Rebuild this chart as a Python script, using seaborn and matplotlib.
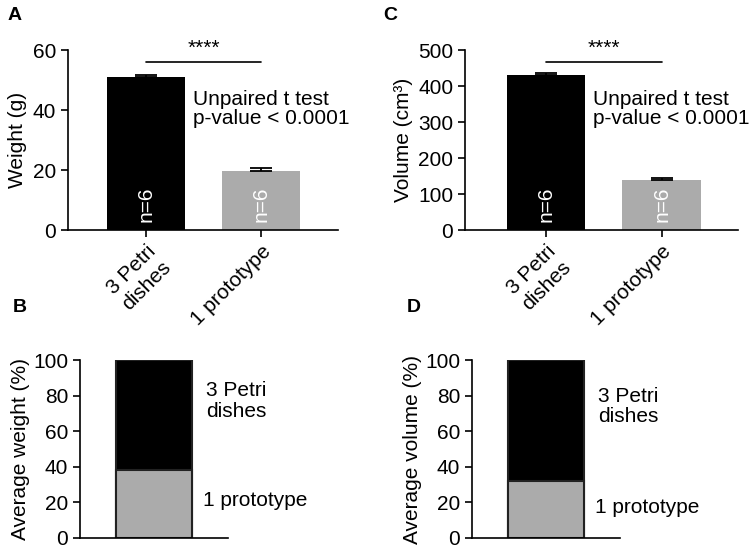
import matplotlib
matplotlib.use("Agg")
import matplotlib.pyplot as plt
import numpy as np
import seaborn as sns

sns.set_theme(style="ticks")
plt.rcParams.update({
    "font.family": ["Liberation Sans", "DejaVu Sans"],
    "font.size": 15,
    "text.color": "black",
    "axes.labelcolor": "black",
    "axes.edgecolor": "black",
    "axes.linewidth": 1.2,
    "xtick.color": "black",
    "ytick.color": "black",
    "xtick.major.width": 1.2,
    "ytick.major.width": 1.2,
    "xtick.major.size": 5,
    "ytick.major.size": 5,
    "xtick.labelsize": 15,
    "ytick.labelsize": 15,
    "axes.labelsize": 15,
})

# podaci
groups = ["3 Petri\ndishes", "1 prototype"]
weight_mean = [51.0, 19.7]
weight_err = [0.8, 0.9]
volume_mean = [430, 139]
volume_err = [7, 6]
weight_pct_proto = 38
volume_pct_proto = 32
n_labels = ["n=6", "n=6"]

BLACK = "#000000"
GRAY = "#ababab"

fig = plt.figure(figsize=(7.5, 5.48), dpi=100)


def bar_panel(rect, means, errs, ylim, step, ylabel, star_y, line_y, n_y, txt_y1, txt_y2, xlim):
    ax = fig.add_axes(rect)
    sns.barplot(x=groups, y=means, hue=groups, palette=[BLACK, GRAY], legend=False,
                width=0.68, ax=ax, linewidth=0, saturation=1)
    ax.errorbar(range(len(means)), means, yerr=[[0] * len(errs), errs], fmt="none",
                ecolor="black", elinewidth=1.3, capsize=8, capthick=1.3)
    ax.set_ylim(*ylim)
    ax.set_xlim(*xlim)
    ax.set_yticks(np.arange(ylim[0], ylim[1] + 1, step))
    ax.set_ylabel(ylabel)
    ax.set_xlabel("")
    ax.set_xticks(range(len(groups)))
    ax.set_xticklabels(groups, rotation=45, ha="right", rotation_mode="anchor",
                       multialignment="right")
    for i, t in enumerate(n_labels):
        ax.text(i, n_y, t, rotation=90, color="white", ha="center", va="center", fontsize=15)
    ax.plot([0, 1], [line_y, line_y], color="black", lw=1.2, clip_on=False)
    ax.text(0.5, star_y, "****", ha="center", va="center", fontsize=15, clip_on=False)
    ax.text(0.41, txt_y1, "Unpaired t test", ha="left", va="center", fontsize=15)
    ax.text(0.41, txt_y2, "p-value < 0.0001", ha="left", va="center", fontsize=15)
    sns.despine(ax=ax)
    return ax


def stack_panel(rect, pct_proto, ylabel, y_top_txt, y_bot_txt):
    ax = fig.add_axes(rect)
    sns.barplot(x=["avg"], y=[100], color=BLACK, saturation=1, width=0.8, ax=ax,
                edgecolor="#222222", linewidth=1.5)
    sns.barplot(x=["avg"], y=[pct_proto], color=GRAY, saturation=1, width=0.8, ax=ax,
                edgecolor="#222222", linewidth=1.5)
    ax.set_ylim(0, 100)
    ax.set_xlim(-0.78, 0.78)
    ax.set_yticks(range(0, 101, 20))
    ax.set_xticks([])
    ax.set_ylabel(ylabel, labelpad=2)
    ax.set_xlabel("")
    ax.text(0.55, y_top_txt, "3 Petri\ndishes", ha="left", va="center", fontsize=15,
            clip_on=False, linespacing=1.1)
    ax.text(0.52, y_bot_txt, "1 prototype", ha="left", va="center", fontsize=15, clip_on=False)
    sns.despine(ax=ax)
    return ax


bar_panel([0.0907, 0.580, 0.36, 0.3285], weight_mean, weight_err, (0, 60), 20,
          "Weight (g)", 60.5, 56, 8.7, 43.7, 37.3, (-0.68, 1.67))
bar_panel([0.62, 0.580, 0.364, 0.3285], volume_mean, volume_err, (0, 500), 100,
          "Volume (cm³)", 504, 467, 72, 364, 311, (-0.70, 1.66))
stack_panel([0.1067, 0.01825, 0.1973, 0.3248], weight_pct_proto,
            "Average weight (%)", 77, 21)
stack_panel([0.6293, 0.01825, 0.1973, 0.3248], volume_pct_proto,
            "Average volume (%)", 74, 17)

for lab, x, y in [("A", 0.010, 0.972), ("C", 0.511, 0.972), ("B", 0.017, 0.438), ("D", 0.542, 0.438)]:
    fig.text(x, y, lab, fontsize=14, fontweight="bold", ha="left", va="center")

fig.savefig("out.png", dpi=100)
